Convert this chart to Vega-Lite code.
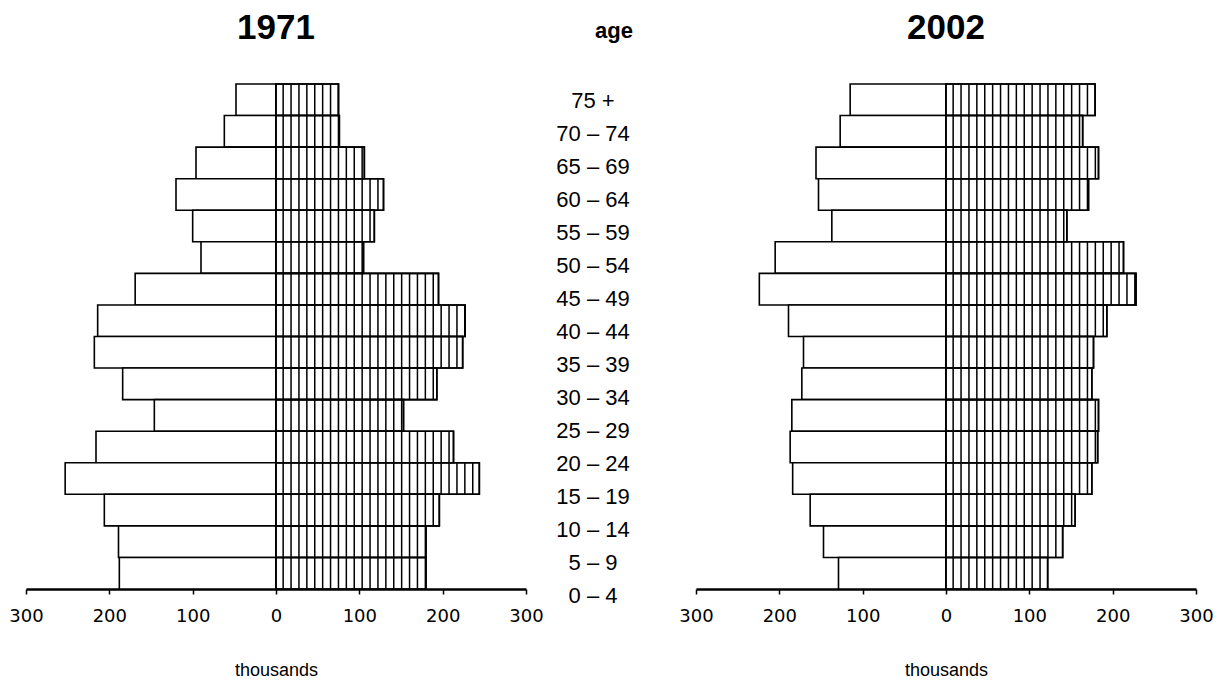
{
  "$schema": "https://vega.github.io/schema/vega-lite/v6.json",
  "background": "white",
  "padding": {"left": 8, "top": 11, "right": 5, "bottom": 5},
  "spacing": 0,
  "bounds": "flush",
  "config": {
    "view": {"stroke": null},
    "axis": {
      "grid": false,
      "domainColor": "black",
      "domainWidth": 2.5,
      "tickColor": "black",
      "tickWidth": 1.5,
      "tickSize": 5,
      "labelFont": "DejaVu Sans",
      "labelFontSize": 18,
      "labelColor": "black",
      "labelPadding": 13,
      "labelFlush": false,
      "labelOverlap": false,
      "titleFont": "Liberation Sans",
      "titleFontSize": 18,
      "titleFontWeight": "normal",
      "titleColor": "black",
      "titlePadding": 36
    }
  },
  "data": {
    "values": [
      {"year": 1971, "age": "75 +", "male": -48, "female": 75},
      {"year": 1971, "age": "70 – 74", "male": -62, "female": 76},
      {"year": 1971, "age": "65 – 69", "male": -96, "female": 106},
      {"year": 1971, "age": "60 – 64", "male": -120, "female": 129},
      {"year": 1971, "age": "55 – 59", "male": -100, "female": 118},
      {"year": 1971, "age": "50 – 54", "male": -90, "female": 105},
      {"year": 1971, "age": "45 – 49", "male": -169, "female": 195},
      {"year": 1971, "age": "40 – 44", "male": -214, "female": 227},
      {"year": 1971, "age": "35 – 39", "male": -218, "female": 224},
      {"year": 1971, "age": "30 – 34", "male": -184, "female": 193},
      {"year": 1971, "age": "25 – 29", "male": -146, "female": 153},
      {"year": 1971, "age": "20 – 24", "male": -216, "female": 213},
      {"year": 1971, "age": "15 – 19", "male": -253, "female": 244},
      {"year": 1971, "age": "10 – 14", "male": -206, "female": 196},
      {"year": 1971, "age": "5 – 9", "male": -189, "female": 180},
      {"year": 1971, "age": "0 – 4", "male": -188, "female": 180},
      {"year": 2002, "age": "75 +", "male": -115, "female": 179},
      {"year": 2002, "age": "70 – 74", "male": -127, "female": 164},
      {"year": 2002, "age": "65 – 69", "male": -156, "female": 183},
      {"year": 2002, "age": "60 – 64", "male": -153, "female": 171},
      {"year": 2002, "age": "55 – 59", "male": -137, "female": 145},
      {"year": 2002, "age": "50 – 54", "male": -205, "female": 213},
      {"year": 2002, "age": "45 – 49", "male": -224, "female": 228},
      {"year": 2002, "age": "40 – 44", "male": -189, "female": 193},
      {"year": 2002, "age": "35 – 39", "male": -171, "female": 177},
      {"year": 2002, "age": "30 – 34", "male": -173, "female": 175},
      {"year": 2002, "age": "25 – 29", "male": -185, "female": 183},
      {"year": 2002, "age": "20 – 24", "male": -187, "female": 182},
      {"year": 2002, "age": "15 – 19", "male": -184, "female": 175},
      {"year": 2002, "age": "10 – 14", "male": -163, "female": 155},
      {"year": 2002, "age": "5 – 9", "male": -147, "female": 140},
      {"year": 2002, "age": "0 – 4", "male": -129, "female": 122}
    ]
  },
  "hconcat": [
    {
      "title": {"text": "1971", "font": "Liberation Sans", "fontSize": 35, "fontWeight": "bold", "color": "black", "offset": 37},
      "width": 500,
      "height": 505,
      "transform": [{"filter": "datum.year == 1971"}],
      "encoding": {
        "y": {"field": "age", "type": "nominal", "sort": ["75 +", "70 – 74", "65 – 69", "60 – 64", "55 – 59", "50 – 54", "45 – 49", "40 – 44", "35 – 39", "30 – 34", "25 – 29", "20 – 24", "15 – 19", "10 – 14", "5 – 9", "0 – 4"], "scale": {"paddingInner": 0, "paddingOuter": 0}, "axis": null}
      },
      "layer": [
        {
          "mark": {"type": "bar", "fill": "white", "stroke": "black", "strokeWidth": 1.6},
          "encoding": {
            "x": {"field": "male", "type": "quantitative", "scale": {"domain": [-300, 300]}, "title": "thousands", "axis": {"values": [-300, -200, -100, 0, 100, 200, 300], "labelExpr": "format(abs(datum.value), 'd')"}},
            "x2": {"datum": 0}
          }
        },
        {
          "mark": {"type": "bar", "fill": "white", "stroke": "black", "strokeWidth": 1.6},
          "encoding": {"x": {"field": "female", "type": "quantitative"}, "x2": {"datum": 0}}
        },
        {
          "mark": {"type": "rule", "stroke": "black", "strokeWidth": 31.5, "strokeDash": [1.5, 6.4], "strokeDashOffset": {"expr": "-datum.female * 500 / 600"}, "strokeCap": "butt"},
          "encoding": {"x": {"field": "female", "type": "quantitative"}, "x2": {"datum": 0}}
        },
        {
          "mark": {"type": "bar", "fill": "transparent", "stroke": "black", "strokeWidth": 1.6},
          "encoding": {"x": {"field": "female", "type": "quantitative"}, "x2": {"datum": 0}}
        }
      ]
    },
    {
      "title": {"text": "age", "font": "Liberation Sans", "fontSize": 22, "fontWeight": "bold", "color": "black", "offset": 41, "dx": 3},
      "width": 170,
      "height": 528,
      "transform": [{"filter": "datum.year == 1971"}],
      "mark": {"type": "text", "font": "Liberation Sans", "fontSize": 22, "color": "black", "dx": -18},
      "encoding": {
        "y": {"field": "age", "type": "nominal", "sort": ["75 +", "70 – 74", "65 – 69", "60 – 64", "55 – 59", "50 – 54", "45 – 49", "40 – 44", "35 – 39", "30 – 34", "25 – 29", "20 – 24", "15 – 19", "10 – 14", "5 – 9", "0 – 4"], "scale": {"paddingInner": 0, "paddingOuter": 0}, "axis": null},
        "text": {"field": "age", "type": "nominal"}
      }
    },
    {
      "title": {"text": "2002", "font": "Liberation Sans", "fontSize": 35, "fontWeight": "bold", "color": "black", "offset": 37},
      "width": 500,
      "height": 505,
      "transform": [{"filter": "datum.year == 2002"}],
      "encoding": {
        "y": {"field": "age", "type": "nominal", "sort": ["75 +", "70 – 74", "65 – 69", "60 – 64", "55 – 59", "50 – 54", "45 – 49", "40 – 44", "35 – 39", "30 – 34", "25 – 29", "20 – 24", "15 – 19", "10 – 14", "5 – 9", "0 – 4"], "scale": {"paddingInner": 0, "paddingOuter": 0}, "axis": null}
      },
      "layer": [
        {
          "mark": {"type": "bar", "fill": "white", "stroke": "black", "strokeWidth": 1.6},
          "encoding": {
            "x": {"field": "male", "type": "quantitative", "scale": {"domain": [-300, 300]}, "title": "thousands", "axis": {"values": [-300, -200, -100, 0, 100, 200, 300], "labelExpr": "format(abs(datum.value), 'd')"}},
            "x2": {"datum": 0}
          }
        },
        {
          "mark": {"type": "bar", "fill": "white", "stroke": "black", "strokeWidth": 1.6},
          "encoding": {"x": {"field": "female", "type": "quantitative"}, "x2": {"datum": 0}}
        },
        {
          "mark": {"type": "rule", "stroke": "black", "strokeWidth": 31.5, "strokeDash": [1.5, 6.4], "strokeDashOffset": {"expr": "-datum.female * 500 / 600"}, "strokeCap": "butt"},
          "encoding": {"x": {"field": "female", "type": "quantitative"}, "x2": {"datum": 0}}
        },
        {
          "mark": {"type": "bar", "fill": "transparent", "stroke": "black", "strokeWidth": 1.6},
          "encoding": {"x": {"field": "female", "type": "quantitative"}, "x2": {"datum": 0}}
        }
      ]
    }
  ]
}
